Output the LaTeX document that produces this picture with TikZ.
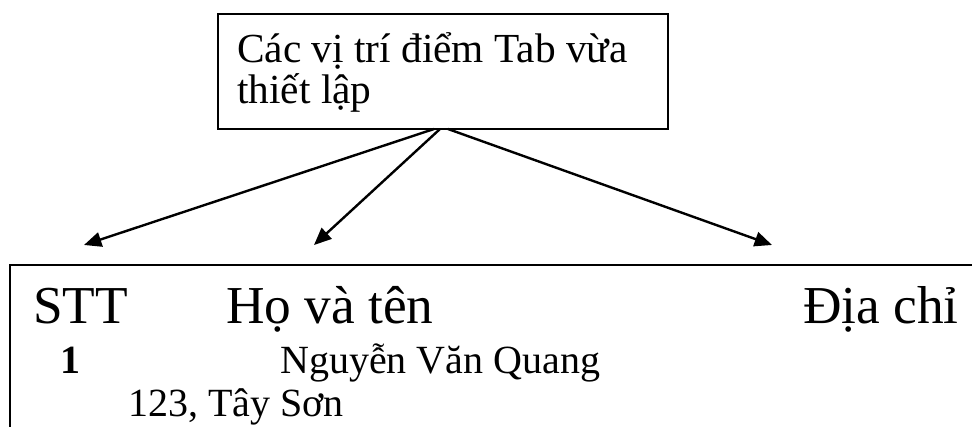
\documentclass[tikz,border=0pt]{standalone}
\usepackage{fontspec}
\setmainfont{Liberation Serif}
\usetikzlibrary{arrows.meta}

\begin{document}
\begin{tikzpicture}[x=0.75pt,y=-0.75pt,
  box/.style={draw, line width=1.5pt},
  pointer/.style={-{Triangle[length=13pt,width=11pt]}, line width=1.8pt},
  head/.style={anchor=base west, inner sep=0pt, font=\fontsize{40}{48}\selectfont},
  row/.style={anchor=base west, inner sep=0pt, font=\fontsize{30}{36}\selectfont}]
  \clip (0,0) rectangle (972,427);

  % note box with the callout text
  \node[box, anchor=north west, minimum width=337.5pt, minimum height=86.25pt] (note) at (217,13) {};
  \node[anchor=base west, inner sep=0pt, align=left, font=\fontsize{31}{31}\selectfont] (notetext) at (237,104)
    {Các vị trí điểm Tab vừa\\thiết lập};

  % tab stops
  \coordinate (stop1) at (84,245);
  \coordinate (stop2) at (314,245);
  \coordinate (stop3) at (772,245);
  \draw[pointer] ([xshift=-6.75pt,yshift=0.75pt]note.south) -- (stop1);
  \draw[pointer] ([xshift=-2.25pt,yshift=0.75pt]note.south) -- (stop2);
  \draw[pointer] ([xshift=3.75pt,yshift=0.75pt]note.south) -- (stop3);

  % table frame, running off the page
  \draw[box] (990,265) -- (10,265) -- (10,440);
  \node[head] (stt) at (33,324) {STT};
  \node[head] (hoten) at (226,324) {Họ và tên};
  \node[head] (diachi) at (803,324) {Địa chỉ};
  \node[row] (num) at (60,374) {\textbf{1}};
  \node[row] (name) at (280,374) {Nguyễn Văn Quang};
  \node[row] (addr) at (128,417) {123, Tây Sơn};
\end{tikzpicture}
\end{document}
